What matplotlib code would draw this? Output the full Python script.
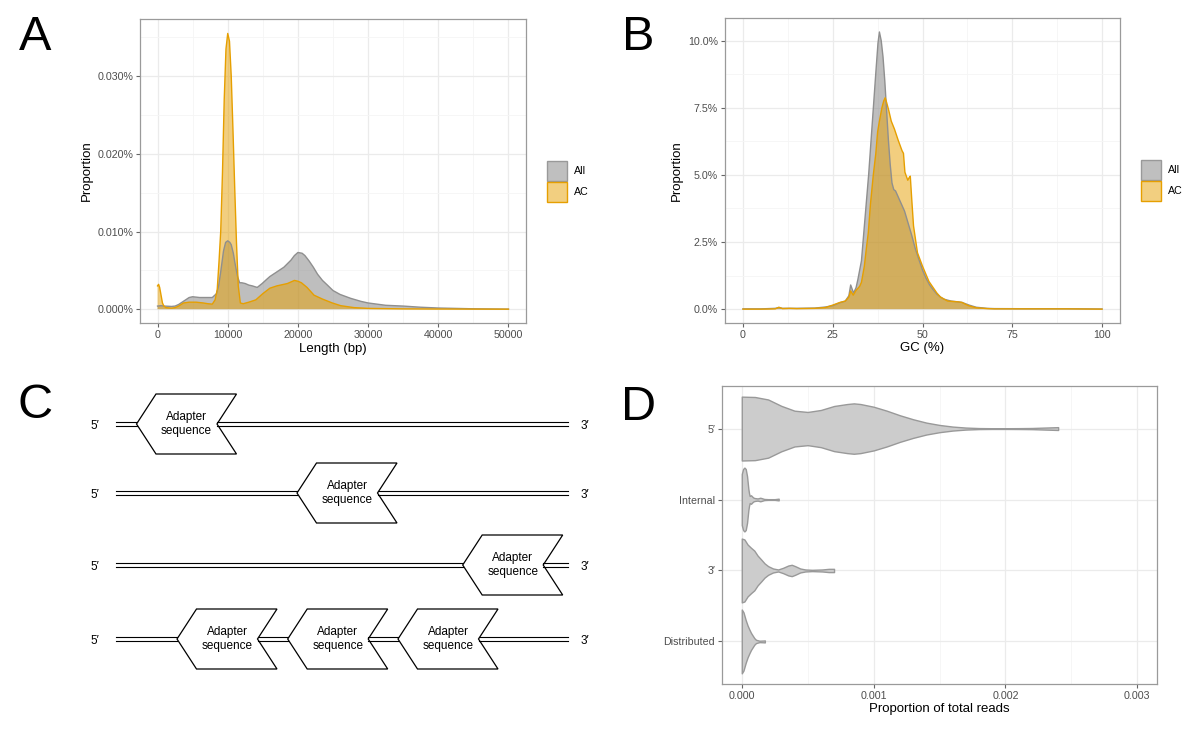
import matplotlib
matplotlib.use('Agg')
import matplotlib.pyplot as plt
from matplotlib.patches import Polygon, Rectangle
from matplotlib.ticker import MultipleLocator

plt.rcParams['font.family'] = ['Liberation Sans', 'DejaVu Sans']

# ---- panel A: read length density (x in bp, y in %) ----
len_all_x = [0, 500, 1000, 2000, 2500, 3000, 3500, 4000, 4500, 5000, 6000, 7000, 7800, 8400,
             8700, 9000, 9400, 9700, 10000, 10300, 10500, 10800, 11000, 11400, 11700, 12000,
             12500, 13000, 13500, 14200, 14900, 15500, 16000, 17000, 18000, 19000, 19500,
             20000, 20600, 21000, 21600, 22200, 22800, 23500, 24200, 25000, 26000, 27500,
             29000, 30000, 32500, 35000, 37500, 40000, 45000, 50000]
len_all_y = [0.0004, 0.00045, 0.0004, 0.00035, 0.0004, 0.0006, 0.0009, 0.0012, 0.0015, 0.0016,
             0.0015, 0.0015, 0.0015, 0.002, 0.003, 0.0048, 0.0075, 0.0086, 0.0088, 0.0086,
             0.0083, 0.0072, 0.0061, 0.0042, 0.0034, 0.0034, 0.0033, 0.0031, 0.003, 0.0028,
             0.0033, 0.0038, 0.0042, 0.0048, 0.0054, 0.0063, 0.0069, 0.0073, 0.0072, 0.0069,
             0.0062, 0.0054, 0.0045, 0.0037, 0.0031, 0.0024, 0.0019, 0.0014, 0.001, 0.0008,
             0.0005, 0.0004, 0.00025, 0.00015, 0.00005, 0.0]
len_ac_x = [0, 150, 300, 500, 700, 900, 1200, 2000, 2500, 3000, 3700, 4500, 5500, 6500, 7200,
            7800, 8200, 8500, 8750, 9000, 9250, 9500, 9750, 10000, 10250, 10500, 10750, 11000,
            11250, 11500, 11800, 12200, 13000, 14000, 15000, 16000, 17000, 17500, 18500, 19500,
            20000, 20500, 21300, 22300, 23500, 24900, 26100, 28000, 30000, 35000, 40000, 50000]
len_ac_y = [0.003, 0.0032, 0.0028, 0.0018, 0.0008, 0.0004, 0.0002, 0.00013, 0.0002, 0.0004,
            0.0008, 0.0009, 0.0009, 0.0008, 0.0007, 0.00065, 0.0012, 0.0025, 0.006, 0.010,
            0.0175, 0.027, 0.0335, 0.0355, 0.0345, 0.030, 0.023, 0.0155, 0.0085, 0.003, 0.0008,
            0.0007, 0.0009, 0.0012, 0.002, 0.0027, 0.003, 0.0031, 0.0033, 0.0037, 0.0036,
            0.0034, 0.0028, 0.0018, 0.0013, 0.0008, 0.00045, 0.0002, 0.0001, 0.00004, 0.00002, 0.0]

# ---- panel B: GC density (x in %, y in %) ----
gc_all_x = [0, 5, 9, 10, 11, 15, 20, 23, 25, 27, 28.5, 29.5, 30, 30.8, 31.5, 32, 33, 34, 35,
            36, 37, 37.6, 38, 38.5, 39, 39.5, 40, 40.5, 41, 41.5, 42, 42.5, 43, 44, 45, 46, 47,
            48, 49, 50, 51, 52, 53, 54, 55, 56, 58, 60, 61, 62, 63, 65, 68, 70, 80, 90, 100]
gc_all_y = [0.01, 0.01, 0.03, 0.06, 0.03, 0.03, 0.04, 0.08, 0.13, 0.24, 0.3, 0.5, 0.9, 0.6,
            0.8, 1.1, 1.8, 3.4, 5.0, 6.9, 8.8, 9.9, 10.32, 10.0, 9.4, 8.5, 7.4, 6.3, 5.4, 4.7,
            4.45, 4.4, 4.25, 3.95, 3.65, 3.2, 2.75, 2.25, 1.85, 1.46, 1.15, 0.9, 0.72, 0.56,
            0.45, 0.37, 0.3, 0.27, 0.25, 0.2, 0.15, 0.07, 0.03, 0.02, 0.015, 0.015, 0.005]
gc_ac_x = [0, 5, 9, 10, 11, 13, 15, 20, 23, 25, 27, 28.5, 29.5, 30, 30.7, 31.5, 32.5, 33,
           33.8, 34.4, 34.9, 35.5, 36.3, 37, 37.5, 38, 38.7, 39.2, 39.6, 40, 40.6, 41.3, 42.2,
           43.2, 44.3, 44.7, 45.1, 45.9, 46.3, 46.6, 47.0, 47.5, 48.6, 50, 51.8, 54, 55, 57,
           59, 60, 61, 62, 63, 65, 68, 70, 80, 90, 100]
gc_ac_y = [0.0, 0.0, 0.01, 0.07, 0.02, 0.03, 0.02, 0.03, 0.06, 0.15, 0.25, 0.3, 0.45, 0.68,
           0.52, 0.7, 0.85, 1.0, 1.6, 2.3, 2.84, 3.9, 5.0, 5.8, 6.6, 7.0, 7.5, 7.75, 7.87, 7.7,
           7.4, 7.0, 6.7, 6.3, 5.9, 5.8, 5.1, 4.8, 4.9, 4.95, 4.1, 3.1, 2.1, 1.6, 1.03, 0.6,
           0.45, 0.3, 0.28, 0.27, 0.25, 0.18, 0.12, 0.05, 0.02, 0.01, 0.01, 0.01, 0.0]

# ---- panel D: violin profiles (value, half width) ----
vio_labels = ['Distributed', '3\u2032', 'Internal', '5\u2032']
vio_5p_x = [0, 0.0001, 0.0002, 0.0003, 0.0004, 0.0005, 0.0006, 0.0007, 0.0008, 0.00085, 0.0009,
            0.001, 0.0011, 0.0012, 0.0013, 0.0014, 0.0015, 0.0016, 0.0017, 0.0018, 0.0019,
            0.002, 0.0021, 0.0022, 0.0023, 0.0024]
vio_5p_w = [0.45, 0.445, 0.41, 0.32, 0.252, 0.234, 0.262, 0.318, 0.346, 0.355, 0.346, 0.308,
            0.252, 0.187, 0.131, 0.084, 0.051, 0.028, 0.014, 0.007, 0.005, 0.005, 0.006, 0.008,
            0.014, 0.02]
vio_int_x = [0, 0.00001, 0.00002, 0.00003, 0.00004, 0.00005, 0.000055, 0.00006, 0.00007,
             0.00008, 0.00009, 0.0001, 0.00012, 0.00014, 0.00015, 0.00017, 0.0002, 0.00025,
             0.00028]
vio_int_w = [0.36, 0.43, 0.45, 0.43, 0.33, 0.15, 0.09, 0.05, 0.06, 0.04, 0.025, 0.02, 0.015,
             0.025, 0.02, 0.008, 0.005, 0.005, 0.012]
vio_3p_x = [0, 0.00002, 0.000044, 0.00007, 0.000095, 0.00012, 0.000147, 0.000173, 0.0002,
            0.000237, 0.000276, 0.000314, 0.000353, 0.000379, 0.000405, 0.000443, 0.000482,
            0.000534, 0.00061, 0.00066, 0.0007]
vio_3p_w = [0.45, 0.437, 0.366, 0.32, 0.28, 0.21, 0.155, 0.10, 0.061, 0.028, 0.014, 0.038,
            0.07, 0.08, 0.061, 0.028, 0.014, 0.009, 0.014, 0.023, 0.023]
vio_dist_x = [0, 0.000013, 0.00003, 0.000044, 0.000057, 0.00007, 0.000082, 0.000095,
              0.000108, 0.000134, 0.00016, 0.000175]
vio_dist_w = [0.45, 0.41, 0.30, 0.225, 0.17, 0.12, 0.085, 0.047, 0.023, 0.01, 0.012, 0.014]

# ---- panel C: adapter positions per read (left tip, in px of the panel) ----
read_rows = [[136.5], [297], [462.7], [177, 287.7, 398]]

W, H = 1196, 729
fig = plt.figure(figsize=(W / 100, H / 100), dpi=100)


def px_axes(l, t, r, b):
    return fig.add_axes([l / W, 1 - b / H, (r - l) / W, (b - t) / H])


def style(ax):
    for s in ax.spines.values():
        s.set_color('#9a9a9a')
        s.set_linewidth(0.9)
    ax.grid(which='major', color='#ebebeb', lw=0.9)
    ax.grid(which='minor', color='#f5f5f5', lw=0.6)
    ax.set_axisbelow(True)
    ax.tick_params(which='major', length=3, width=0.8, color='#666666', labelsize=7.7,
                   labelcolor='#4d4d4d', pad=2)
    ax.tick_params(which='minor', length=0)


def legend_keys(x, y, label_x):
    items = [('All', '#bfbfbf', '#999999'), ('AC', '#f2cf80', '#e69f00')]
    for i, (lab, fc, ec) in enumerate(items):
        top = y + i * 21
        fig.add_artist(Rectangle((x / W, 1 - (top + 20) / H), 20 / W, 20 / H,
                                 transform=fig.transFigure, facecolor=fc, edgecolor=ec, lw=1))
        fig.text(label_x / W, 1 - (top + 10) / H, lab, fontsize=7.7, va='center', ha='left')


def density(ax, x, y, fc, ec):
    ax.fill_between(x, 0, y, facecolor=fc, alpha=0.5, lw=0)
    ax.plot(x, y, color=ec, lw=1)


# panel A
axA = px_axes(140, 19, 526, 323)
style(axA)
density(axA, len_all_x, len_all_y, '#7f7f7f', '#8f8f8f')
density(axA, len_ac_x, len_ac_y, '#e69f00', '#e69f00')
axA.set_xlim(-2500, 52500)
axA.set_ylim(-0.00178, 0.03736)
axA.set_xticks(range(0, 50001, 10000))
axA.xaxis.set_minor_locator(MultipleLocator(5000))
axA.set_yticks([0, 0.01, 0.02, 0.03])
axA.set_yticklabels([f'{v:.3f}%' for v in [0, 0.01, 0.02, 0.03]])
axA.yaxis.set_minor_locator(MultipleLocator(0.005))
axA.set_xlabel('Length (bp)', fontsize=9.5)
axA.set_ylabel('Proportion', fontsize=9.5)
axA.xaxis.set_label_coords(0.5, -0.0855)
axA.xaxis.label.set_va('center')
axA.yaxis.set_label_coords(-0.137, 0.5)
axA.yaxis.label.set_va('center')
legend_keys(547, 161, 574)

# panel B
axB = px_axes(725, 18, 1120, 323)
style(axB)
density(axB, gc_all_x, gc_all_y, '#7f7f7f', '#8f8f8f')
density(axB, gc_ac_x, gc_ac_y, '#e69f00', '#e69f00')
axB.set_xlim(-5, 105)
axB.set_ylim(-0.516, 10.84)
axB.set_xticks([0, 25, 50, 75, 100])
axB.xaxis.set_minor_locator(MultipleLocator(12.5))
axB.set_yticks([0, 2.5, 5, 7.5, 10])
axB.set_yticklabels([f'{v:.1f}%' for v in [0, 2.5, 5, 7.5, 10]])
axB.yaxis.set_minor_locator(MultipleLocator(1.25))
axB.set_xlabel('GC (%)', fontsize=9.5)
axB.set_ylabel('Proportion', fontsize=9.5)
axB.xaxis.set_label_coords(0.5, -0.082)
axB.xaxis.label.set_va('center')
axB.yaxis.set_label_coords(-0.1215, 0.5)
axB.yaxis.label.set_va('center')
legend_keys(1141, 160, 1168)

# panel C: schematic
axC = fig.add_axes([0, 0, 600 / W, 359 / H])
axC.set_xlim(0, 600)
axC.set_ylim(729, 370)
axC.axis('off')
row_y = [424, 493, 565, 639]
for y, tips in zip(row_y, read_rows):
    starts = [116] + [t + 80.5 for t in tips]
    ends = tips + [568]
    for s, e in zip(starts, ends):
        for dy in (-1.6, 1.6):
            axC.plot([s, e], [y + dy, y + dy], color='black', lw=0.8)
    for t in tips:
        pts = [(t, y), (t + 19.5, y - 30), (t + 100, y - 30), (t + 80.5, y),
               (t + 100, y + 30), (t + 19.5, y + 30)]
        axC.add_patch(Polygon(pts, closed=True, facecolor='white', edgecolor='black', lw=0.9))
        axC.text(t + 50, y, 'Adapter\nsequence', ha='center', va='center', fontsize=8.5,
                 linespacing=1.2)
    axC.text(95, y + 2, '5\u2032', ha='center', va='center', fontsize=8.5)
    axC.text(585, y + 2, '3\u2032', ha='center', va='center', fontsize=8.5)

# panel D
axD = px_axes(722, 386, 1157, 684)
style(axD)
profiles = [(vio_dist_x, vio_dist_w), (vio_3p_x, vio_3p_w), (vio_int_x, vio_int_w),
            (vio_5p_x, vio_5p_w)]
for pos, (vx, vw) in enumerate(profiles, start=1):
    axD.fill_between(vx, [pos - w for w in vw], [pos + w for w in vw],
                     facecolor='#cccccc', edgecolor='#999999', lw=1, zorder=3)
axD.set_xlim(-0.00015, 0.00315)
axD.set_ylim(0.4, 4.6)
axD.set_xticks([0, 0.001, 0.002, 0.003])
axD.set_xticklabels([f'{v:.3f}' for v in [0, 0.001, 0.002, 0.003]])
axD.xaxis.set_minor_locator(MultipleLocator(0.0005))
axD.set_yticks([1, 2, 3, 4])
axD.set_yticklabels(vio_labels)
axD.set_xlabel('Proportion of total reads', fontsize=9.5)
axD.xaxis.set_label_coords(0.5, -0.084)
axD.xaxis.label.set_va('center')

# panel letters
for lab, x, y in [('A', 19, 50), ('B', 622, 50), ('C', 18, 418), ('D', 621, 420)]:
    fig.text(x / W, 1 - y / H, lab, fontsize=35, va='baseline', ha='left')

fig.savefig('out.png', dpi=100)
